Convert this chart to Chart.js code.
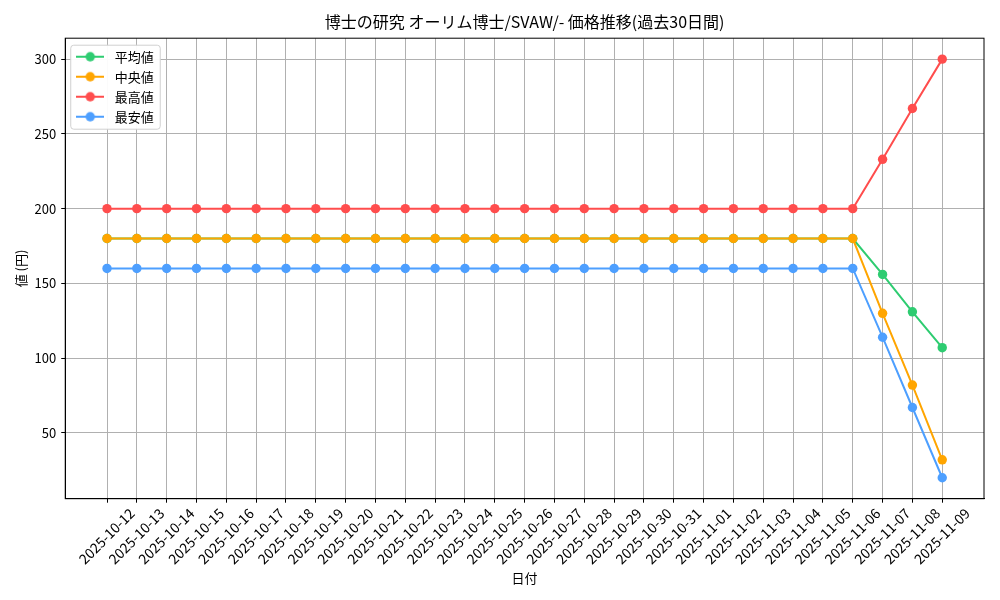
<!DOCTYPE html>
<html>
<head>
<meta charset="utf-8">
<script src="https://cdn.jsdelivr.net/npm/chart.js@4.4.0/dist/chart.umd.min.js"></script>
<style>
  html, body { margin: 0; padding: 0; background: #fff; }
  #wrap { width: 1000px; height: 600px; }
</style>
</head>
<body>
<div id="wrap"><canvas id="priceChart"></canvas></div>
<script>
// values
const dates = [
  '2025-10-12', '2025-10-13', '2025-10-14', '2025-10-15', '2025-10-16', '2025-10-17',
  '2025-10-18', '2025-10-19', '2025-10-20', '2025-10-21', '2025-10-22', '2025-10-23',
  '2025-10-24', '2025-10-25', '2025-10-26', '2025-10-27', '2025-10-28', '2025-10-29',
  '2025-10-30', '2025-10-31', '2025-11-01', '2025-11-02', '2025-11-03', '2025-11-04',
  '2025-11-05', '2025-11-06', '2025-11-07', '2025-11-08', '2025-11-09'
];
const avgValues = [
  180, 180, 180, 180, 180, 180, 180, 180, 180, 180, 180, 180, 180,
  180, 180, 180, 180, 180, 180, 180, 180, 180, 180, 180, 180, 180,
  156, 131, 107
];
const medianValues = [
  180, 180, 180, 180, 180, 180, 180, 180, 180, 180, 180, 180, 180,
  180, 180, 180, 180, 180, 180, 180, 180, 180, 180, 180, 180, 180,
  130, 82, 32
];
const maxValues = [
  200, 200, 200, 200, 200, 200, 200, 200, 200, 200, 200, 200, 200,
  200, 200, 200, 200, 200, 200, 200, 200, 200, 200, 200, 200, 200,
  233, 267, 300
];
const minValues = [
  160, 160, 160, 160, 160, 160, 160, 160, 160, 160, 160, 160, 160,
  160, 160, 160, 160, 160, 160, 160, 160, 160, 160, 160, 160, 160,
  114, 67, 20
];
const yTicks = [50, 100, 150, 200, 250, 300];
const seriesNames = ['平均値', '中央値', '最高値', '最安値'];
const seriesColors = ['#2ecc71', '#ffa500', '#ff4d4d', '#4d9fff'];

const FONT = '"Noto Sans CJK JP", "DejaVu Sans", sans-serif';

function toPoints(values) {
  return values.map((v, i) => ({ x: i, y: v }));
}

// little "line with a dot" legend symbols, like matplotlib
function legendIcon(color) {
  const c = document.createElement('canvas');
  c.width = 28;
  c.height = 12;
  const ctx = c.getContext('2d');
  ctx.strokeStyle = color;
  ctx.lineWidth = 2;
  ctx.beginPath();
  ctx.moveTo(0, 6);
  ctx.lineTo(28, 6);
  ctx.stroke();
  ctx.fillStyle = color;
  ctx.beginPath();
  ctx.arc(14, 6, 4.7, 0, Math.PI * 2);
  ctx.fill();
  return c;
}
const icons = seriesColors.map(legendIcon);

function makeDataset(i, values) {
  return {
    label: seriesNames[i],
    data: toPoints(values),
    borderColor: seriesColors[i],
    backgroundColor: seriesColors[i],
    borderWidth: 2,
    pointRadius: 4.7,
    pointBorderWidth: 0,
    pointHoverRadius: 4.7,
    order: 4 - i,
  };
}

// the vertical legend in 'chartArea' mode ends up at top 0, move it down
// into the plot, then frame it and redraw it above the grid
const framePlugin = {
  id: 'frame',
  afterLayout(chart) {
    const legend = chart.legend;
    const delta = chart.chartArea.top + 5 - legend.top;
    legend.top += delta;
    legend.bottom += delta;
    legend.legendHitBoxes.forEach(b => { b.top += delta; });
  },
  afterDraw(chart) {
    const { ctx, chartArea } = chart;
    const boxes = chart.legend.legendHitBoxes;
    if (boxes && boxes.length) {
      const left = Math.min(...boxes.map(b => b.left)) - 2;
      const right = Math.max(...boxes.map(b => b.left + b.width)) + 6;
      const top = boxes[0].top + boxes[0].height / 2 - 12;
      const last = boxes[boxes.length - 1];
      const bottom = last.top + last.height / 2 + 12;
      ctx.save();
      ctx.fillStyle = 'rgba(255,255,255,0.95)';
      ctx.strokeStyle = '#d0d0d0';
      ctx.lineWidth = 1;
      ctx.beginPath();
      ctx.roundRect(left + 0.5, top + 0.5, right - left, bottom - top, 3);
      ctx.fill();
      ctx.stroke();
      ctx.restore();
      chart.legend.draw();
    }
    ctx.save();
    ctx.strokeStyle = '#000';
    ctx.lineWidth = 1;
    ctx.strokeRect(chartArea.left, chartArea.top,
      chartArea.right - chartArea.left, chartArea.bottom - chartArea.top);
    ctx.restore();
  }
};

new Chart(document.getElementById('priceChart'), {
  type: 'line',
  data: {
    datasets: [
      makeDataset(0, avgValues),
      makeDataset(1, medianValues),
      makeDataset(2, maxValues),
      makeDataset(3, minValues),
    ]
  },
  options: {
    responsive: true,
    maintainAspectRatio: false,
    animation: false,
    layout: { padding: { left: 6, right: 16, top: 0, bottom: 10 } },
    plugins: {
      title: {
        display: true,
        fullSize: false,
        text: '博士の研究 オーリム博士/SVAW/- 価格推移(過去30日間)',
        color: '#000',
        font: { family: FONT, size: 16, weight: 'normal' },
        padding: { top: 12, bottom: 7 },
      },
      legend: {
        position: 'chartArea',
        align: 'start',
        labels: {
          usePointStyle: true,
          pointStyleWidth: 36,
          padding: 7,
          color: '#000',
          font: { family: FONT, size: 13 },
          sort: (a, b) => a.datasetIndex - b.datasetIndex,
          generateLabels(chart) {
            const items = Chart.defaults.plugins.legend.labels.generateLabels(chart);
            items.forEach(it => { it.pointStyle = icons[it.datasetIndex]; });
            return items;
          }
        }
      },
      tooltip: { enabled: false },
    },
    scales: {
      x: {
        type: 'linear',
        min: -1.4,
        max: 29.4,
        afterBuildTicks(scale) {
          scale.ticks = dates.map((d, i) => ({ value: i }));
        },
        ticks: {
          autoSkip: false,
          minRotation: 45,
          maxRotation: 45,
          labelOffset: 25,
          padding: 2,
          color: '#000',
          font: { family: FONT, size: 14 },
          callback: (value) => dates[Math.round(value)],
        },
        grid: { color: '#b0b0b0', lineWidth: 1, tickColor: '#000', tickLength: 4 },
        border: { color: '#000', width: 1 },
        title: {
          display: true,
          text: '日付',
          color: '#000',
          font: { family: FONT, size: 13 },
          padding: { top: 1, bottom: 4 },
        },
      },
      y: {
        type: 'linear',
        min: 6,
        max: 314,
        afterBuildTicks(scale) {
          scale.ticks = yTicks.map(v => ({ value: v }));
        },
        ticks: {
          padding: 5,
          color: '#000',
          font: { family: FONT, size: 13 },
        },
        grid: { color: '#b0b0b0', lineWidth: 1, tickColor: '#000', tickLength: 4 },
        border: { color: '#000', width: 1 },
        title: {
          display: true,
          text: '値 (円)',
          color: '#000',
          font: { family: FONT, size: 13 },
          padding: { top: 7, bottom: 1 },
        },
      },
    },
  },
  plugins: [framePlugin],
});
</script>
</body>
</html>
